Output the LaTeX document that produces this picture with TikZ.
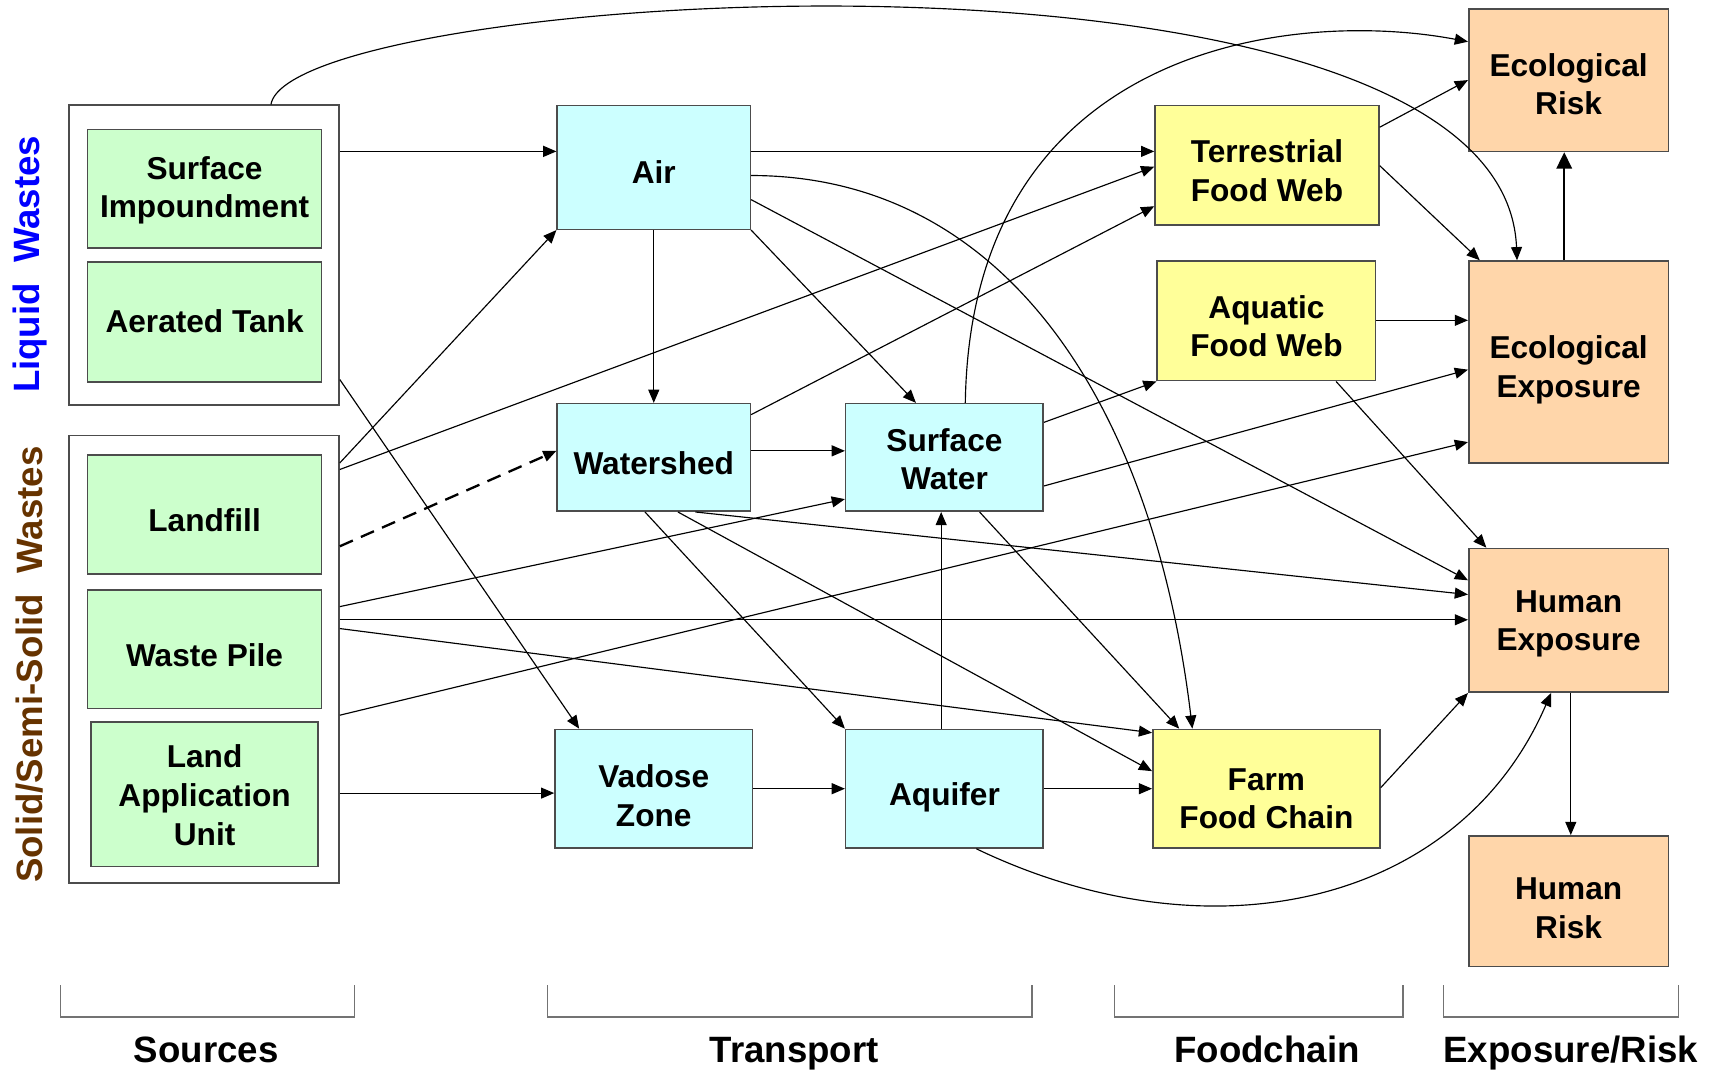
\documentclass[tikz,border=0pt]{standalone}
\usepackage{fontspec}
\setmainfont{Liberation Sans}
\usetikzlibrary{arrows.meta}

\definecolor{srcgreen}{HTML}{CCFFCC}
\definecolor{trcyan}{HTML}{CCFFFF}
\definecolor{fcyellow}{HTML}{FFFF99}
\definecolor{rkpeach}{HTML}{FFD6AA}
\definecolor{liquidblue}{HTML}{0000FF}
\definecolor{solidbrown}{HTML}{663300}

\begin{document}
\begin{tikzpicture}[
    x=0.01cm, y=-0.01cm,
    font=\fontsize{8.2}{10}\selectfont\bfseries,
    block/.style={rectangle, draw=black!70, line width=0.4pt, align=center, inner sep=0pt, text height=8.8pt, text depth=0pt},
    source/.style={block, fill=srcgreen},
    transport/.style={block, fill=trcyan},
    food/.style={block, fill=fcyellow},
    risk/.style={block, fill=rkpeach},
    wastebox/.style={rectangle, draw=black!70, line width=0.4pt, fill=white},
    sidelabel/.style={rotate=90, font=\fontsize{9.5}{11}\selectfont\bfseries},
    stagelabel/.style={anchor=base, font=\fontsize{9.5}{11}\selectfont\bfseries},
    bracket/.style={draw=black!55, line width=0.4pt},
    arrow/.style={line width=0.3pt, ->, >={Triangle[length=1.2mm,width=1mm]}},
    bigarrow/.style={line width=0.6pt, ->, >={Triangle[length=1.5mm,width=1.4mm]}},
    dasharrow/.style={arrow, line width=0.6pt, dash pattern=on 1.3mm off 0.8mm}
]
    \useasboundingbox (0,0) rectangle (1568,978);

    \node (liquid) [wastebox, minimum width=2.46cm, minimum height=2.73cm] at (186,232.5) {};
    \node (solid) [wastebox, minimum width=2.46cm, minimum height=4.08cm] at (186,601) {};

    \node (surfimp) [source, text height=15pt, minimum width=2.13cm, minimum height=1.08cm] at (186.5,172) {Surface\\Impoundment};
    \node (aerated) [source, text height=5.6pt, minimum width=2.13cm, minimum height=1.09cm] at (186.5,293.5) {Aerated Tank};
    \node (landfill) [source, minimum width=2.13cm, minimum height=1.08cm] at (186.5,469) {Landfill};
    \node (wastepile) [source, minimum width=2.13cm, minimum height=1.08cm] at (186.5,592) {Waste Pile};
    \node (landapp) [source, text height=26.4pt, minimum width=2.07cm, minimum height=1.32cm] at (186.5,724) {Land\\Application\\Unit};

    \node (air) [transport, text height=8.5pt, minimum width=1.76cm, minimum height=1.13cm] at (596,152.5) {Air};
    \node (watershed) [transport, minimum width=1.76cm, minimum height=0.98cm] at (596,417) {Watershed};
    \node (surfwater) [transport, text height=16.7pt, minimum width=1.80cm, minimum height=0.98cm] at (861,417) {Surface\\Water};
    \node (vadose) [transport, text height=19.6pt, minimum width=1.80cm, minimum height=1.08cm] at (596,719) {Vadose\\Zone};
    \node (aquifer) [transport, minimum width=1.80cm, minimum height=1.08cm] at (861,719) {Aquifer};

    \node (terrestrial) [food, text height=18.7pt, minimum width=2.04cm, minimum height=1.09cm] at (1155,150.5) {Terrestrial\\Food Web};
    \node (aquatic) [food, text height=18.7pt, minimum width=1.99cm, minimum height=1.09cm] at (1154.5,292.5) {Aquatic\\Food Web};
    \node (farm) [food, text height=20.7pt, minimum width=2.07cm, minimum height=1.08cm] at (1154.5,719) {Farm\\Food Chain};

    \node (ecorisk) [risk, text height=17.9pt, minimum width=1.82cm, minimum height=1.30cm] at (1430,73) {Ecological\\Risk};
    \node (ecoexp) [risk, text height=18.4pt, minimum width=1.82cm, minimum height=1.84cm] at (1430,330) {Ecological\\Exposure};
    \node (humexp) [risk, text height=15.9pt, minimum width=1.82cm, minimum height=1.31cm] at (1430,565.5) {Human\\Exposure};
    \node (humrisk) [risk, text height=19.3pt, minimum width=1.82cm, minimum height=1.19cm] at (1430,821.5) {Human\\Risk};

    \node (liquidlabel) [sidelabel, text=liquidblue] at (27,241) {Liquid\ \ Wastes};
    \node (solidlabel) [sidelabel, text=solidbrown] at (27,606) {Solid/Semi-Solid\ \ Wastes};

    \draw [arrow] (liquid.east |- 0,138) -- (air.west |- 0,138);
    \draw [arrow] (liquid.north -| 247,0) .. controls (265,-10) and (1370,-80) .. (ecoexp.north -| 1383,0);
    \draw [arrow] (liquid.east |- 0,346) -- (vadose.north -| 528,0);

    \draw [arrow] (solid.east |- 0,422) -- (air.south west);
    \draw [arrow] (solid.east |- 0,428) -- (terrestrial.west |- 0,152);
    \draw [dasharrow] (solid.east |- 0,498) -- (watershed.west |- 0,411);
    \draw [arrow] (solid.east |- 0,553) -- (surfwater.west |- 0,455);
    \draw [arrow] (solid.east |- 0,565) -- (humexp.west |- 0,565);
    \draw [arrow] (solid.east |- 0,573) -- (farm.west |- 0,668);
    \draw [arrow] (solid.east |- 0,652) -- (ecoexp.west |- 0,403);
    \draw [arrow] (solid.east |- 0,723) -- (vadose.west |- 0,723);

    \draw [arrow] (air.east |- 0,138) -- (terrestrial.west |- 0,138);
    \draw [arrow] (air.east |- 0,160) .. controls (914,160) and (1051,365) .. (farm.north -| 1087,0);
    \draw [arrow] (air.east |- 0,182) -- (humexp.west |- 0,529);
    \draw [arrow] (air.south east) -- (surfwater.north -| 835,0);
    \draw [arrow] (air) -- (watershed);

    \draw [arrow] (watershed.east |- 0,411) -- (surfwater.west |- 0,411);
    \draw [arrow] (watershed.east |- 0,378) -- (terrestrial.west |- 0,188);
    \draw [arrow] (watershed.south -| 588,0) -- (aquifer.north west);
    \draw [arrow] (watershed.south -| 618,0) -- (farm.west |- 0,703);
    \draw [arrow] (watershed.south -| 634,0) -- (humexp.west |- 0,542);

    \draw [arrow] (surfwater.north -| 880,0) .. controls (885,40) and (1180,8) .. (ecorisk.west |- 0,38);
    \draw [arrow] (surfwater.east |- 0,385) -- (aquatic.south west);
    \draw [arrow] (surfwater.east |- 0,443) -- (ecoexp.west |- 0,337);
    \draw [arrow] (surfwater.south -| 893,0) -- (farm.north -| 1075,0);

    \draw [arrow] (aquifer.north -| 858,0) -- (surfwater.south -| 858,0);
    \draw [arrow] (aquifer) -- (farm);
    \draw [arrow] (aquifer.south -| 890,0) .. controls (1103,876) and (1330,826) .. (humexp.south -| 1414,0);
    \draw [arrow] (vadose) -- (aquifer);

    \draw [arrow] (terrestrial.east |- 0,116) -- (ecorisk.west |- 0,73);
    \draw [arrow] (terrestrial.east |- 0,151) -- (ecoexp.north -| 1349,0);
    \draw [arrow] (aquatic.east |- 0,292) -- (ecoexp.west |- 0,292);
    \draw [arrow] (aquatic.south -| 1218,0) -- (humexp.north -| 1355,0);
    \draw [arrow] (farm.east |- 0,718) -- (humexp.south west);

    \draw [bigarrow] (ecoexp.north -| 1426,0) -- (ecorisk.south -| 1426,0);
    \draw [arrow] (humexp.south -| 1432,0) -- (humrisk.north -| 1432,0);

    \draw [bracket] (55,898) |- (323,927) -- (323,898);
    \draw [bracket] (499,898) |- (941,927) -- (941,898);
    \draw [bracket] (1016,898) |- (1279,927) -- (1279,898);
    \draw [bracket] (1316,898) |- (1530,927) -- (1530,898);

    \node (sources) [stagelabel] at (188,969) {Sources};
    \node (transportlabel) [stagelabel] at (724,969) {Transport};
    \node (foodchain) [stagelabel] at (1155,969) {Foodchain};
    \node (exposurerisk) [stagelabel] at (1432,969) {Exposure/Risk};
\end{tikzpicture}
\end{document}
